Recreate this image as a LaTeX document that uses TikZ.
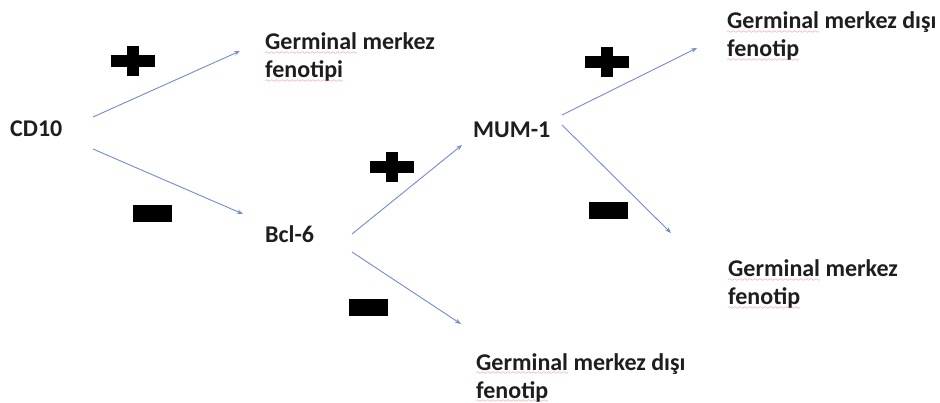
\documentclass[tikz,border=0pt]{standalone}
\usepackage{fontspec}
\setmainfont{Carlito}
\usetikzlibrary{arrows.meta}
\definecolor{wavered}{RGB}{225,70,70}
\definecolor{arrowblue}{RGB}{115,140,205}
\definecolor{txt}{RGB}{30,30,30}
\font\wavefnt=lasy6
\newcommand\redwave[1]{\leavevmode\setbox0\hbox{#1}\rlap{\lower4.5pt\hbox to\wd0{\color{wavered}\xleaders\hbox{\wavefnt\char58}\hfil}}\box0\relax}
\begin{document}
\begin{tikzpicture}[x=1pt,y=-1pt,
  lbl/.style={anchor=base west, inner sep=0pt, align=left, text=txt,
    font=\bfseries\fontsize{24}{28}\selectfont},
  conn/.style={draw=arrowblue, line width=0.9pt, -{Stealth[length=6pt,width=4.5pt]}},
  plussign/.pic={\fill[black] (-22,-6) rectangle (22,6); \fill[black] (-6,-15) rectangle (6,15);},
  minussign/.pic={\fill[black] (-19.5,-8.5) rectangle (19.5,8.5);}]
\useasboundingbox[fill=white] (0,0) rectangle (940,403);

\node[lbl] (cd10) at (10,137) {CD10};
\node[lbl] (gm1) at (265,78) {\redwave{Germinal} merkez\\\redwave{fenotipi}};
\node[lbl] (bcl6) at (265,243) {Bcl-6};
\node[lbl] (mum1) at (473,138) {MUM-1};
\node[lbl] (gmd1) at (727,57) {\redwave{Germinal} merkez dışı\\\redwave{fenotip}};
\node[lbl] (gm2) at (728,305) {\redwave{Germinal} merkez\\\redwave{fenotip}};
\node[lbl] (gmd2) at (476,398) {\redwave{Germinal} merkez dışı\\\redwave{fenotip}};

\draw[conn] ([xshift=83pt,yshift=20pt]cd10.base west) -- ([xshift=-25pt,yshift=27pt]gm1.base west);
\draw[conn] ([xshift=83pt,yshift=-12pt]cd10.base west) -- ([xshift=-22pt,yshift=29pt]bcl6.base west);
\draw[conn] ([xshift=87pt,yshift=9pt]bcl6.base west) -- ([xshift=-11pt,yshift=-7pt]mum1.base west);
\draw[conn] ([xshift=87pt,yshift=-9pt]bcl6.base west) -- ([xshift=-15pt,yshift=74pt]gmd2.base west);
\draw[conn] ([xshift=89pt,yshift=23pt]mum1.base west) -- ([xshift=-30pt,yshift=9pt]gmd1.base west);
\draw[conn] ([xshift=89pt,yshift=13pt]mum1.base west) -- ([xshift=-57pt,yshift=72pt]gm2.base west);

\pic at (133,61) {plussign};
\pic at (392,167) {plussign};
\pic at (607,62) {plussign};
\pic at (152.5,213.5) {minussign};
\pic at (368,308) {minussign};
\pic at (608.5,210.5) {minussign};
\end{tikzpicture}
\end{document}
